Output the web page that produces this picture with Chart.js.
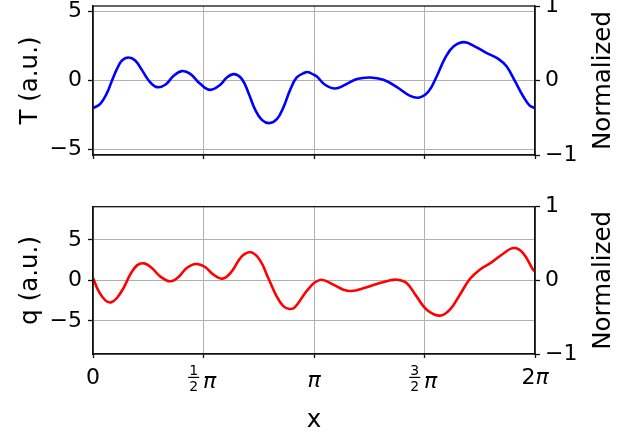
<!DOCTYPE html>
<html>
<head>
<meta charset="utf-8">
<script src="https://cdn.jsdelivr.net/npm/chart.js@4/dist/chart.umd.min.js"></script>
<style>
  html, body { margin: 0; padding: 0; background: #fff; }
  #wrap { position: relative; width: 634px; height: 436px; }
  canvas { position: absolute; left: 0; }
  #topChart { top: 0; }
  #bottomChart { top: 190px; }
</style>
</head>
<body>
<div id="wrap">
  <canvas id="topChart" width="634" height="170"></canvas>
  <canvas id="bottomChart" width="634" height="246"></canvas>
</div>
<script>
// x positions are in units of pi (0 .. 2)
const xT = [0.000, 0.033, 0.063, 0.086, 0.108, 0.131, 0.161, 0.191, 0.221, 0.252,
  0.289, 0.327, 0.365, 0.402, 0.440, 0.485, 0.530, 0.576, 0.606, 0.639,
  0.674, 0.704, 0.734, 0.764, 0.797, 0.832, 0.862, 0.892, 0.922, 0.960,
  0.975, 0.998, 1.013, 1.050, 1.096, 1.141, 1.194, 1.254, 1.314, 1.375,
  1.435, 1.477, 1.518, 1.555, 1.593, 1.631, 1.679, 1.729, 1.782, 1.834,
  1.872, 1.910, 1.947, 1.975, 2.000];
const tValues = [-2.00, -1.69, -0.92, 0.00, 0.82, 1.45, 1.67, 1.45, 0.77, 0.00,
  -0.48, -0.31, 0.34, 0.68, 0.48, -0.24, -0.68, -0.31, 0.22, 0.46,
  0.10, -0.92, -2.13, -2.85, -3.09, -2.80, -1.93, -0.68, 0.22, 0.58,
  0.60, 0.42, 0.29, -0.31, -0.58, -0.31, 0.10, 0.22, 0.05, -0.48,
  -1.11, -1.23, -0.80, 0.29, 1.62, 2.46, 2.78, 2.46, 1.98, 1.57,
  1.01, -0.07, -1.16, -1.80, -2.00];

const xQ = [0.000, 0.026, 0.056, 0.081, 0.108, 0.138, 0.168, 0.199, 0.232, 0.266,
  0.304, 0.349, 0.387, 0.424, 0.466, 0.507, 0.545, 0.587, 0.628, 0.673,
  0.715, 0.756, 0.793, 0.831, 0.860, 0.890, 0.914, 0.960, 0.983, 1.000,
  1.035, 1.088, 1.133, 1.171, 1.223, 1.284, 1.337, 1.377, 1.419, 1.464,
  1.510, 1.570, 1.615, 1.660, 1.705, 1.750, 1.803, 1.856, 1.904, 1.946,
  1.991, 2.000];
const qValues = [0.30, -1.36, -2.47, -2.72, -2.18, -0.95, 0.70, 1.85, 2.10, 1.52,
  0.49, -0.12, 0.41, 1.52, 2.02, 1.65, 0.70, 0.21, 1.11, 2.96,
  3.46, 2.47, 0.29, -1.98, -3.15, -3.54, -3.30, -1.56, -0.82, -0.33,
  0.08, -0.53, -1.15, -1.32, -0.99, -0.45, -0.04, 0.08, -0.33, -1.98,
  -3.62, -4.36, -3.62, -1.77, 0.16, 1.32, 2.22, 3.29, 3.99, 3.37,
  1.32, 1.10];

const xTicks = [0, 0.5, 1, 1.5, 2];
const xTickLabels = ['0', '1/2π', 'π', '3/2π', '2π'];
const normTicks = [-1, 0, 1];

const FONT = '"DejaVu Sans", sans-serif';
const minus = v => String(v).replace('-', '\u2212');

// draws the frame, rotated axis titles and (for the lower panel) the x tick labels
const decor = {
  id: 'decor',
  afterDraw(chart, args, opts) {
    const { ctx, chartArea: a } = chart;
    const midY = (a.top + a.bottom) / 2;
    ctx.save();
    ctx.strokeStyle = '#111';
    ctx.lineWidth = 1.3;
    ctx.strokeRect(a.left, a.top, a.right - a.left, a.bottom - a.top);

    ctx.fillStyle = '#000';
    ctx.font = '24.5px ' + FONT;
    ctx.textAlign = 'center';
    ctx.textBaseline = 'alphabetic';
    ctx.save();
    ctx.translate(36.5, midY);
    ctx.rotate(-Math.PI / 2);
    ctx.fillText(opts.left, 0, 0);
    ctx.restore();
    ctx.save();
    ctx.translate(610, midY);
    ctx.rotate(-Math.PI / 2);
    ctx.fillText(opts.right, 0, 0);
    ctx.restore();

    if (opts.xLabels) {
      const sx = chart.scales.x;
      xTicks.forEach((v, i) => {
        const px = sx.getPixelForValue(v);
        const lab = xTickLabels[i];
        if (lab.includes('/')) {
          const [num, rest] = lab.split('/');
          const den = rest.replace('π', '');
          const fx = px - 9.8;
          ctx.font = '14px ' + FONT;
          ctx.textAlign = 'center';
          ctx.fillText(num, fx, a.bottom + 20.5);
          ctx.fillText(den, fx, a.bottom + 36.5);
          ctx.fillRect(fx - 5.5, a.bottom + 22.8, 11, 1.2);
          ctx.font = 'italic 22px ' + FONT;
          ctx.fillText('π', px + 6, a.bottom + 34);
        } else {
          const digits = lab.replace('π', '');
          const hasPi = lab.includes('π');
          ctx.font = '22px ' + FONT;
          const wd = ctx.measureText(digits).width;
          ctx.font = 'italic 22px ' + FONT;
          const wp = hasPi ? ctx.measureText('π').width : 0;
          const x0 = px - (wd + wp) / 2;
          const base = a.bottom + (digits === '' ? 32.5 : (hasPi ? 29.5 : 30));
          ctx.textAlign = 'left';
          ctx.font = '22px ' + FONT;
          ctx.fillText(digits, x0, base);
          if (hasPi) {
            ctx.font = 'italic 22px ' + FONT;
            ctx.fillText('π', x0 + wd, base);
          }
        }
      });
      ctx.font = '24.5px ' + FONT;
      ctx.textAlign = 'center';
      ctx.fillText('x', (a.left + a.right) / 2, a.bottom + 72.5);
    }
    ctx.restore();
  }
};

function panel(id, xs, ys, color, yMin, yMax, padTop, xHeight, leftTitle, showX) {
  const tickFont = { family: FONT, size: 22 };
  return new Chart(document.getElementById(id), {
    type: 'line',
    data: {
      datasets: [{
        data: xs.map((x, i) => ({ x, y: ys[i] })),
        borderColor: color,
        borderWidth: 2.6,
        pointRadius: 0,
        tension: 0.4,
        fill: false
      }]
    },
    options: {
      responsive: false,
      animation: false,
      devicePixelRatio: 1,
      layout: { padding: { top: padTop, left: 0, right: 0, bottom: 0 } },
      plugins: {
        legend: { display: false },
        tooltip: { enabled: false },
        decor: { left: leftTitle, right: 'Normalized', xLabels: showX }
      },
      scales: {
        x: {
          type: 'linear',
          min: 0,
          max: 2,
          ticks: { display: false, stepSize: 0.5, includeBounds: false },
          grid: { color: '#b0b0b0', lineWidth: 1, tickColor: '#111', tickLength: 4, tickWidth: 1.3 },
          border: { color: '#111', width: 1.3 },
          afterBuildTicks: s => { s.ticks = xTicks.map(v => ({ value: v })); },
          afterFit: s => { s.height = xHeight; s.paddingLeft = 0; s.paddingRight = 0; }
        },
        y: {
          position: 'left',
          min: yMin,
          max: yMax,
          ticks: {
            stepSize: 5,
            includeBounds: false,
            color: '#000',
            font: tickFont,
            padding: 6,
            callback: v => minus(v)
          },
          grid: { color: '#b0b0b0', lineWidth: 1, tickColor: '#111', tickLength: 5, tickWidth: 1.3 },
          border: { color: '#111', width: 1.3 },
          afterFit: s => { s.width = 93; s.paddingTop = 0; s.paddingBottom = 0; }
        },
        y2: {
          position: 'right',
          display: true,
          min: -1,
          max: 1,
          ticks: {
            stepSize: 1,
            color: '#000',
            font: tickFont,
            padding: 5,
            callback: v => minus(v)
          },
          afterBuildTicks: s => { s.ticks = normTicks.map(v => ({ value: v })); },
          grid: { drawOnChartArea: false, tickColor: '#111', tickLength: 5, tickWidth: 1.3 },
          border: { color: '#111', width: 1.3 },
          afterFit: s => { s.width = 99; s.paddingTop = 0; s.paddingBottom = 0; }
        }
      }
    },
    plugins: [decor]
  });
}

panel('topChart', xT, tValues, '#0000ff', -5.4, 5.4, 6, 15, 'T (a.u.)', false);
panel('bottomChart', xQ, qValues, '#ff0000', -9.1, 9.1, 16.7, 82, 'q (a.u.)', true);
</script>
</body>
</html>
